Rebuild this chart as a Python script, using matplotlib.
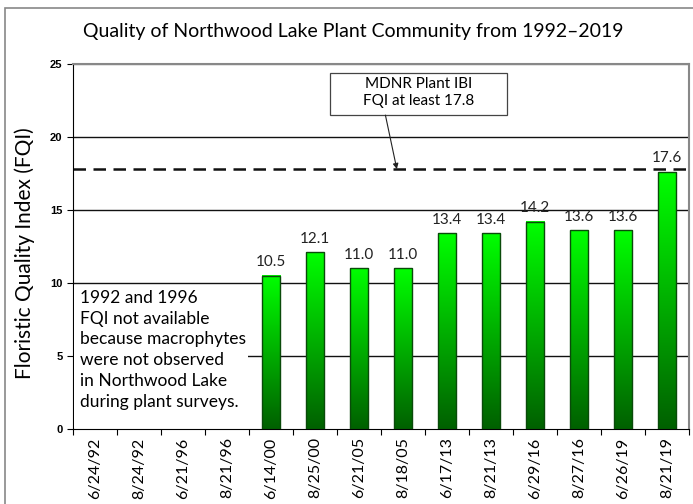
import numpy as np
import matplotlib
matplotlib.use("Agg")
import matplotlib.pyplot as plt
from matplotlib.patches import Rectangle
from matplotlib.colors import LinearSegmentedColormap

# survey dates and FQI values (None = no plants observed)
dates = ["6/24/92", "8/24/92", "6/21/96", "8/21/96", "6/14/00", "8/25/00",
         "6/21/05", "8/18/05", "6/17/13", "8/21/13", "6/29/16", "8/27/16",
         "6/26/19", "8/21/19"]
fqi = [None, None, None, None, 10.5, 12.1, 11.0, 11.0, 13.4, 13.4, 14.2, 13.6,
       13.6, 17.6]
target = 17.8
yticks = [0, 5, 10, 15, 20, 25]

FONT = ["Lato", "DejaVu Sans"]
BAR_W = 0.42
green = LinearSegmentedColormap.from_list("g", ["#006000", "#00ff00"])

fig = plt.figure(figsize=(6.93, 5.04), dpi=100)
ax = fig.add_axes([73 / 693, 75 / 504, 616 / 693, 365 / 504])

# outer frame of the chart
fig.patches.append(Rectangle((5 / 693, -0.1), 1.2, (504 - 8) / 504 + 0.1,
                             transform=fig.transFigure, fill=False,
                             edgecolor="#888888", lw=1.2))

x = np.arange(len(dates))
grad = np.linspace(0, 1, 256).reshape(-1, 1)
for i, v in enumerate(fqi):
    if v is None:
        continue
    ax.imshow(grad, cmap=green, origin="lower", aspect="auto",
              extent=[i - BAR_W / 2, i + BAR_W / 2, 0, v], zorder=3)
    ax.add_patch(Rectangle((i - BAR_W / 2, 0), BAR_W, v, fill=False,
                           edgecolor="#0a4a0a", lw=1.0, zorder=4))
    ax.text(i, v + 0.45, f"{v:.1f}", ha="center", va="bottom", fontsize=11,
            family=FONT, color="#222222", zorder=5)

ax.set_xlim(-0.5, len(dates) - 0.5)
ax.set_ylim(0, 25)
ax.set_yticks(yticks)
ax.set_yticklabels([str(t) for t in yticks], fontsize=8, fontweight="bold",
                   family="Liberation Sans")
ax.set_xticks(np.arange(len(dates) + 1) - 0.5, minor=False)
ax.set_xticklabels([])
ax.set_xticks(x, minor=True)
ax.set_xticklabels(dates, minor=True, rotation=90, fontsize=11.5, family=FONT)
ax.tick_params(axis="x", which="minor", length=0, pad=6)
ax.tick_params(axis="x", which="major", length=4, direction="out")
ax.tick_params(axis="y", length=4, direction="out")
for t in yticks[1:]:
    ax.axhline(t, color="#111111" if t < 25 else "#888888", lw=1.0, zorder=1)
for s in ["top", "right"]:
    ax.spines[s].set_color("#888888")
    ax.spines[s].set_linewidth(1.5)

ax.axhline(target, color="#111111", lw=1.8, ls=(0, (5, 3)), zorder=2)

ax.set_ylabel("Floristic Quality Index (FQI)", fontsize=15, family=FONT)
ax.yaxis.set_label_coords(-0.062, 0.482)
fig.text(353 / 693, 1 - 32 / 504,
         "Quality of Northwood Lake Plant Community from 1992\u20132019",
         ha="center", va="center", fontsize=14, family=FONT)

# note box covering the missing years
ax.add_patch(Rectangle((-0.47, 0.1), 3.95, 9.75, facecolor="white",
                       edgecolor="none", zorder=5))
ax.text(-0.33, 9.55, "1992 and 1996\nFQI not available\nbecause macrophytes\n"
        "were not observed\nin Northwood Lake\nduring plant surveys.",
        ha="left", va="top", fontsize=12.5, family=FONT, linespacing=1.38,
        zorder=6)

# target annotation box and arrow
ax.add_patch(Rectangle((5.34, 21.5), 4.02, 2.9, facecolor="white",
                       edgecolor="#444444", lw=0.9, zorder=7))
ax.text(7.36, 23.05, "MDNR Plant IBI\nFQI at least 17.8", ha="center",
        va="center", fontsize=11, family=FONT, linespacing=1.3, zorder=8)
ax.annotate("", xy=(6.86, target), xytext=(6.6, 21.5),
            arrowprops=dict(arrowstyle="-|>", color="#222222", lw=0.8,
                            shrinkA=0, shrinkB=0, mutation_scale=8),
            zorder=7)

fig.savefig("out.png", dpi=100)
